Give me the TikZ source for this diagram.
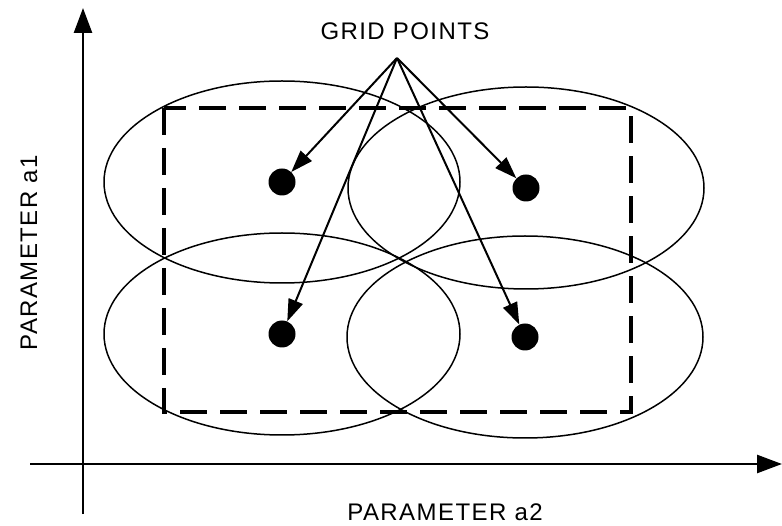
\documentclass[tikz,border=0pt]{standalone}
\usepackage{fontspec}
\usepackage{tikz}
\usetikzlibrary{arrows.meta}
\newfontfamily\lblfont[LetterSpace=6]{Liberation Sans}

\begin{document}
\begin{tikzpicture}[x=1pt,y=-1pt,font=\lblfont\fontsize{24}{28}\selectfont,
  dot/.style={circle,fill=black,inner sep=0pt,minimum size=27pt},
  pointer/.style={-{Triangle[length=22pt,width=15pt]},line width=2pt},
  axis/.style={-{Triangle[length=25pt,width=18pt]},line width=2.5pt}]
\useasboundingbox (0,0) rectangle (782,526);
% axes
\coordinate (xs) at (30,464);
\coordinate (xe) at (782,464);
\coordinate (ys) at (83,514);
\coordinate (ye) at (83,8);
\draw[axis] (xs)--(xe);
\draw[axis] (ys)--(ye);
\node (xlab) at (445,512) {PARAMETER a2};
\node[rotate=90] (ylab) at (29,253) {PARAMETER a1};
% region of the grid
\draw[line width=4pt,dash pattern=on 27pt off 13pt] (164,108) rectangle (631,412);
% grid points and their ellipses
\node[dot] (tl) at (282,182) {};
\node[dot] (tr) at (526,188) {};
\node[dot] (bl) at (282,334) {};
\node[dot] (br) at (525,337) {};
\foreach \p in {tl,tr,bl,br}
  \draw[line width=1.5pt] (\p) ellipse [x radius=178, y radius=101];
\node (grid) at (405,31) {GRID POINTS};
\coordinate (apex) at (397,58);
\foreach \p in {tl,tr,bl,br}
  \draw[pointer] (apex)--(\p);
\end{tikzpicture}
\end{document}
